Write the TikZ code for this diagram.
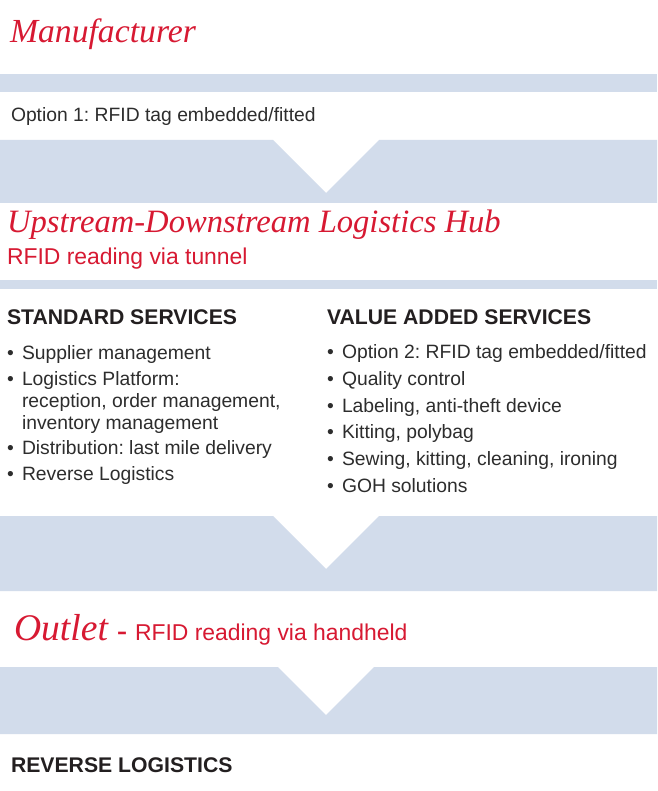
\documentclass[tikz,border=0pt]{standalone}
\usepackage{fontspec}
\newfontfamily\dinfont{Liberation Sans}
\newfontfamily\didot{Liberation Serif}
\frenchspacing
\definecolor{band}{RGB}{210,220,235}
\definecolor{brandred}{RGB}{215,25,50}
\definecolor{bodygray}{RGB}{45,45,45}
\definecolor{headblack}{RGB}{35,31,32}
\begin{document}
\begin{tikzpicture}[x=1pt,y=-1pt,
  lbl/.style={inner sep=0pt, outer sep=0pt, anchor=base west},
  serifhead/.style={lbl, text=brandred, font=\didot\itshape\fontsize{33.7}{38}\selectfont},
  redsub/.style={lbl, text=brandred, font=\dinfont\fontsize{22.9}{26}\selectfont},
  bodytxt/.style={lbl, text=bodygray, font=\dinfont\fontsize{19.3}{22}\selectfont},
  boldhead/.style={lbl, text=headblack, font=\dinfont\bfseries\fontsize{21.2}{25}\selectfont},
  bandfill/.style={fill=band, draw=none}]
\fill[white] (0,0) rectangle (657,791);
\useasboundingbox (0,0) rectangle (657,791);

% bands
\fill[bandfill] (0,74) rectangle (657,92);
\fill[bandfill] (0,140) -- (273,140) -- (326,193) -- (379,140) -- (657,140) -- (657,203) -- (0,203) -- cycle;
\fill[bandfill] (0,280) rectangle (657,289);
\fill[bandfill] (0,516) -- (273,516) -- (326,569) -- (379,516) -- (657,516) -- (657,591) -- (0,591) -- cycle;
\fill[bandfill] (0,667) -- (278,667) -- (326,715) -- (374,667) -- (657,667) -- (657,734) -- (0,734) -- cycle;

% manufacturer
\node[serifhead] (manu) at (10,43) {Manufacturer};
\node[bodytxt] (opt1) at (11,122) {Option 1: RFID tag embedded/fitted};

% hub
\node[serifhead, font=\didot\itshape\fontsize{32.6}{38}\selectfont] (hub) at (7,233) {Upstream-Downstream Logistics Hub};
\node[redsub] (tunnel) at (7,265) {RFID reading via tunnel};

% standard services
\node[boldhead] (std) at (7,324) {STANDARD SERVICES};
\node[bodytxt] (sb1) at (7,359) {•};
\node[bodytxt] (s1) at (22,359) {Supplier management};
\node[bodytxt] (sb2) at (7,385) {•};
\node[bodytxt] (s2) at (22,385) {Logistics Platform:};
\node[bodytxt] (s2b) at (22,407) {reception, order management,};
\node[bodytxt] (s2c) at (22,429) {inventory management};
\node[bodytxt] (sb3) at (7,454) {•};
\node[bodytxt] (s3) at (22,454) {Distribution: last mile delivery};
\node[bodytxt] (sb4) at (7,480) {•};
\node[bodytxt] (s4) at (22,480) {Reverse Logistics};

% value added services
\node[boldhead] (vas) at (327,324) {VALUE ADDED SERVICES};
\node[bodytxt] (vb1) at (327,358) {•};
\node[bodytxt] (v1) at (342,358) {Option 2: RFID tag embedded/fitted};
\node[bodytxt] (vb2) at (327,385) {•};
\node[bodytxt] (v2) at (342,385) {Quality control};
\node[bodytxt] (vb3) at (327,412) {•};
\node[bodytxt] (v3) at (342,412) {Labeling, anti-theft device};
\node[bodytxt] (vb4) at (327,438) {•};
\node[bodytxt] (v4) at (342,438) {Kitting, polybag};
\node[bodytxt] (vb5) at (327,465) {•};
\node[bodytxt] (v5) at (342,465) {Sewing, kitting, cleaning, ironing};
\node[bodytxt] (vb6) at (327,492) {•};
\node[bodytxt] (v6) at (342,492) {GOH solutions};

% outlet
\node[serifhead, font=\didot\itshape\fontsize{37.6}{42}\selectfont] (outlet) at (14,640) {Outlet};
\node[lbl, text=brandred, font=\didot\bfseries\fontsize{30}{34}\selectfont] (dash) at (117,640) {-};
\node[redsub] (handheld) at (135,640) {RFID reading via handheld};

% reverse logistics
\node[boldhead] (rev) at (11,772) {REVERSE LOGISTICS};
\end{tikzpicture}
\end{document}
